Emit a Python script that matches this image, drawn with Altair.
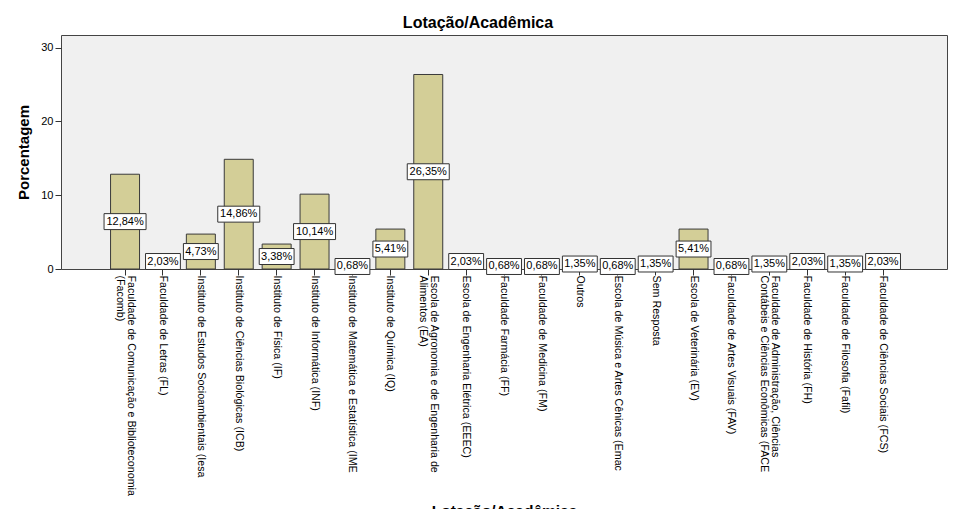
import altair as alt
import pandas as pd

categories = [
    "Faculdade de Comunicação e Biblioteconomia|(Facomb)",
    "Faculdade de Letras (FL)",
    "Instituto de Estudos Socioambientais (Iesa",
    "Instituto de Ciências Biológicas (ICB)",
    "Instituto de Física (IF)",
    "Instituto de Informática (INF)",
    "Instituto de Matemática e Estatística (IME",
    "Instituto de Química (IQ)",
    "Escola de Agronomia e de Engenharia de|Alimentos (EA)",
    "Escola de Engenharia Elétrica (EEEC)",
    "Faculdade Farmácia (FF)",
    "Faculdade de Medicina (FM)",
    "Outros",
    "Escola de Música e Artes Cênicas (Emac",
    "Sem Resposta",
    "Escola de Veterinária (EV)",
    "Faculdade de Artes Visuais (FAV)",
    "Faculdade de Administração, Ciências|Contábeis e Ciências Econômicas (FACE",
    "Faculdade de História (FH)",
    "Faculdade de Filosofia (Fafil)",
    "Faculdade de Ciências Sociais (FCS)",
]
percentages = [12.84, 2.03, 4.73, 14.86, 3.38, 10.14, 0.68, 5.41, 26.35, 2.03,
               0.68, 0.68, 1.35, 0.68, 1.35, 5.41, 0.68, 1.35, 2.03, 1.35, 2.03]

df = pd.DataFrame({"cat": categories, "pct": percentages})
df["lbl"] = [f"{v:.2f}".replace(".", ",") + "%" for v in percentages]

FONT = "Liberation Sans"

xscale = alt.Scale(range=[45.1, 841], paddingInner=0.235, paddingOuter=0.1175)

xenc = alt.X(
    "cat:N", sort=categories, scale=xscale,
    axis=alt.Axis(
        title="Lotação/Acadêmica", labelAngle=90, labelLimit=400,
        labelExpr="split(datum.label, '|')",
        labelOffset={"condition": {"test": "indexof(datum.value, '|') >= 0", "value": 6}, "value": 0},
        labelFont=FONT, labelFontSize=10.7, labelColor="#000000", labelLineHeight=11.5,
        tickSize=6, tickColor="#333333", labelPadding=0, domain=False,
        titleFont=FONT, titleFontSize=15.5, titleFontWeight="bold", titleColor="#000000",
        titleY=234, titleBaseline="top",
    ),
)
yscale = alt.Scale(domain=[0, 31.7], nice=False)

bars = alt.Chart(df).mark_bar(
    color="#D3CE97", stroke="#3a3a3a", strokeWidth=1
).encode(
    x=xenc,
    y=alt.Y("pct:Q", scale=yscale, axis=alt.Axis(
        title="Porcentagem", values=[0, 10, 20, 30], grid=False, domain=False,
        tickSize=6, tickColor="#333333", labelPadding=2,
        labelFont=FONT, labelFontSize=11, labelColor="#000000",
        titleFont=FONT, titleFontSize=15, titleFontWeight="bold", titleColor="#000000",
        titlePadding=9,
    )),
)

base = alt.Chart(df).transform_calculate(
    mid="datum.pct / 2",
    box="length(datum.lbl) > 5 ? 'M-1,-0.38H1V0.38H-1Z' : 'M-0.83,-0.38H0.83V0.38H-0.83Z'",
)

boxes = base.mark_point(filled=True, fill="white", stroke="#333333", strokeWidth=1, opacity=1).encode(
    x=alt.X("cat:N", sort=categories, scale=xscale),
    y=alt.Y("mid:Q", scale=yscale),
    shape=alt.Shape("box:N", scale=None),
    size=alt.value(1764),
)

texts = base.mark_text(font=FONT, fontSize=11, color="#000000").encode(
    x=alt.X("cat:N", sort=categories, scale=xscale),
    y=alt.Y("mid:Q", scale=yscale),
    text="lbl:N",
)

chart = alt.layer(bars, boxes, texts).properties(
    width=886, height=234,
    title=alt.Title("Lotação/Acadêmica", font=FONT, fontSize=16, fontWeight="bold",
                    color="#000000", offset=4, dx=-26),
    autosize=alt.AutoSizeParams(type="none"),
    padding={"left": 53, "top": 27, "right": 2, "bottom": 260},
).configure_view(
    fill="#F0F0F0", stroke="#444444", strokeWidth=1
)

chart.save("out.html", embed_options={"renderer": "svg", "actions": False})
